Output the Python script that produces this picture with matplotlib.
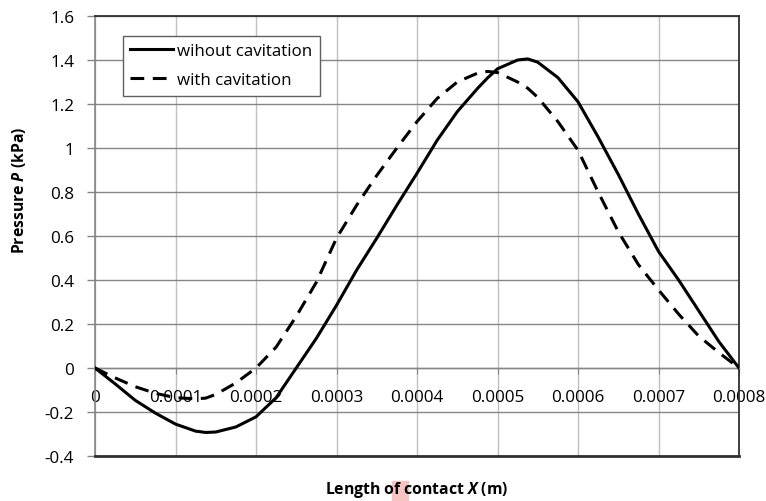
import matplotlib
matplotlib.use("Agg")
import matplotlib.pyplot as plt
from matplotlib.patches import Rectangle

# contact length (m), every 0.000025 m plus the extrema
X = [0, 0.000025, 0.00005, 0.000075, 0.0001, 0.000125, 0.0001375, 0.00015,
     0.000175, 0.0002, 0.000225, 0.00025, 0.000275, 0.0003, 0.000325,
     0.00035, 0.000375, 0.0004, 0.000425, 0.00045, 0.000475, 0.0004875,
     0.0005, 0.000525, 0.0005375, 0.00055, 0.000575, 0.0006, 0.000625,
     0.00065, 0.000675, 0.0007, 0.000725, 0.00075, 0.000775, 0.0008]

# pressure (kPa)
P_NO_CAV = [0, -0.072, -0.147, -0.205, -0.255, -0.287, -0.293, -0.291,
            -0.268, -0.222, -0.135, 0.0, 0.135, 0.285, 0.445,
            0.59, 0.74, 0.885, 1.035, 1.165, 1.27, 1.318,
            1.36, 1.40, 1.405, 1.39, 1.32, 1.21, 1.05,
            0.88, 0.70, 0.53, 0.40, 0.26, 0.12, 0]
P_CAV = [0, -0.045, -0.085, -0.115, -0.135, -0.14, -0.137, -0.12,
         -0.068, 0.0, 0.095, 0.235, 0.39, 0.59, 0.74,
         0.875, 1.0, 1.12, 1.225, 1.30, 1.34, 1.348,
         1.343, 1.30, 1.272, 1.23, 1.12, 0.99, 0.80,
         0.62, 0.47, 0.355, 0.245, 0.145, 0.07, 0]

X_TICKS = [0, 0.0001, 0.0002, 0.0003, 0.0004, 0.0005, 0.0006, 0.0007, 0.0008]
X_LABELS = ["0", "0.0001", "0.0002", "0.0003", "0.0004", "0.0005", "0.0006",
            "0.0007", "0.0008"]
Y_TICKS = [-0.4, -0.2, 0, 0.2, 0.4, 0.6, 0.8, 1.0, 1.2, 1.4, 1.6]
Y_LABELS = ["-0.4", "-0.2", "0", "0.2", "0.4", "0.6", "0.8", "1", "1.2", "1.4", "1.6"]

plt.rcParams.update({
    "font.family": ["Open Sans", "DejaVu Sans"],
    "axes.unicode_minus": False,
    "mathtext.fontset": "custom",
    "mathtext.it": "Open Sans:italic:bold",
    "mathtext.rm": "Open Sans:bold",
})

GRID_H = "#858585"
GRID_V = "#c0c0c0"
FRAME = "#303030"

fig = plt.figure(figsize=(7.66, 5.02), dpi=100)
ax = fig.add_axes([95 / 766, 1 - 457 / 502, 644 / 766, 440 / 502])

ax.plot(X, P_NO_CAV, color="black", lw=2.2, label="wihout cavitation",
        solid_joinstyle="round", zorder=4)
ax.plot(X, P_CAV, color="black", lw=2.2, ls=(0, (4.5, 2.8)),
        dash_joinstyle="round", label="with cavitation", zorder=4)

ax.set_xlim(0, 0.0008)
ax.set_ylim(-0.4, 1.6)
ax.set_xticks(X_TICKS)
ax.set_xticklabels(X_LABELS)
ax.set_yticks(Y_TICKS)
ax.set_yticklabels(Y_LABELS)

# grid: horizontal darker than vertical, as in the Excel original
for y in Y_TICKS:
    ax.axhline(y, color=GRID_H, lw=1.0, zorder=1)
for x in X_TICKS:
    ax.axvline(x, color=GRID_V, lw=1.0, zorder=0.9)

# x axis crosses at zero, plot frame stays at -0.4
ax.spines["bottom"].set_position(("data", 0))
ax.spines["bottom"].set_color(GRID_H)
ax.spines["bottom"].set_linewidth(1.0)
ax.spines["left"].set_color(GRID_H)
ax.spines["left"].set_linewidth(1.2)
for s in ["right", "top"]:
    ax.spines[s].set_color(FRAME)
    ax.spines[s].set_linewidth(1.3)
ax.axhline(-0.4, color=FRAME, lw=2.0, zorder=5, clip_on=False)

ax.tick_params(axis="x", length=4, color=GRID_H, pad=11, labelsize=12.3)
ax.tick_params(axis="y", length=6, color=GRID_H, width=1.0, pad=9, labelsize=12.3)

ax.set_ylabel("Pressure $P$ (kPa)", fontweight="bold", fontsize=11.3)
ax.yaxis.set_label_coords(-0.104, 0.605)
ax.set_xlabel("Length of contact $X$ (m)", fontweight="bold", fontsize=11.3)
ax.xaxis.set_label_coords(0.5, -0.052)

# faint pink highlight behind the "c" of "contact" in the original
fig.patches.append(Rectangle((392 / 766, 0), 16 / 766, 20 / 502,
                             transform=fig.transFigure, color="#f7c4c4",
                             zorder=-1))

leg = ax.legend(loc="upper left", bbox_to_anchor=(0.043, 0.955),
                frameon=True, fancybox=False, framealpha=1, edgecolor="#606060",
                handlelength=2.5, handletextpad=0.25, borderpad=0.45,
                labelspacing=0.75, borderaxespad=0, fontsize=12.2)
leg.get_frame().set_linewidth(1.0)
leg.set_zorder(6)

fig.savefig("out.png", dpi=100)
